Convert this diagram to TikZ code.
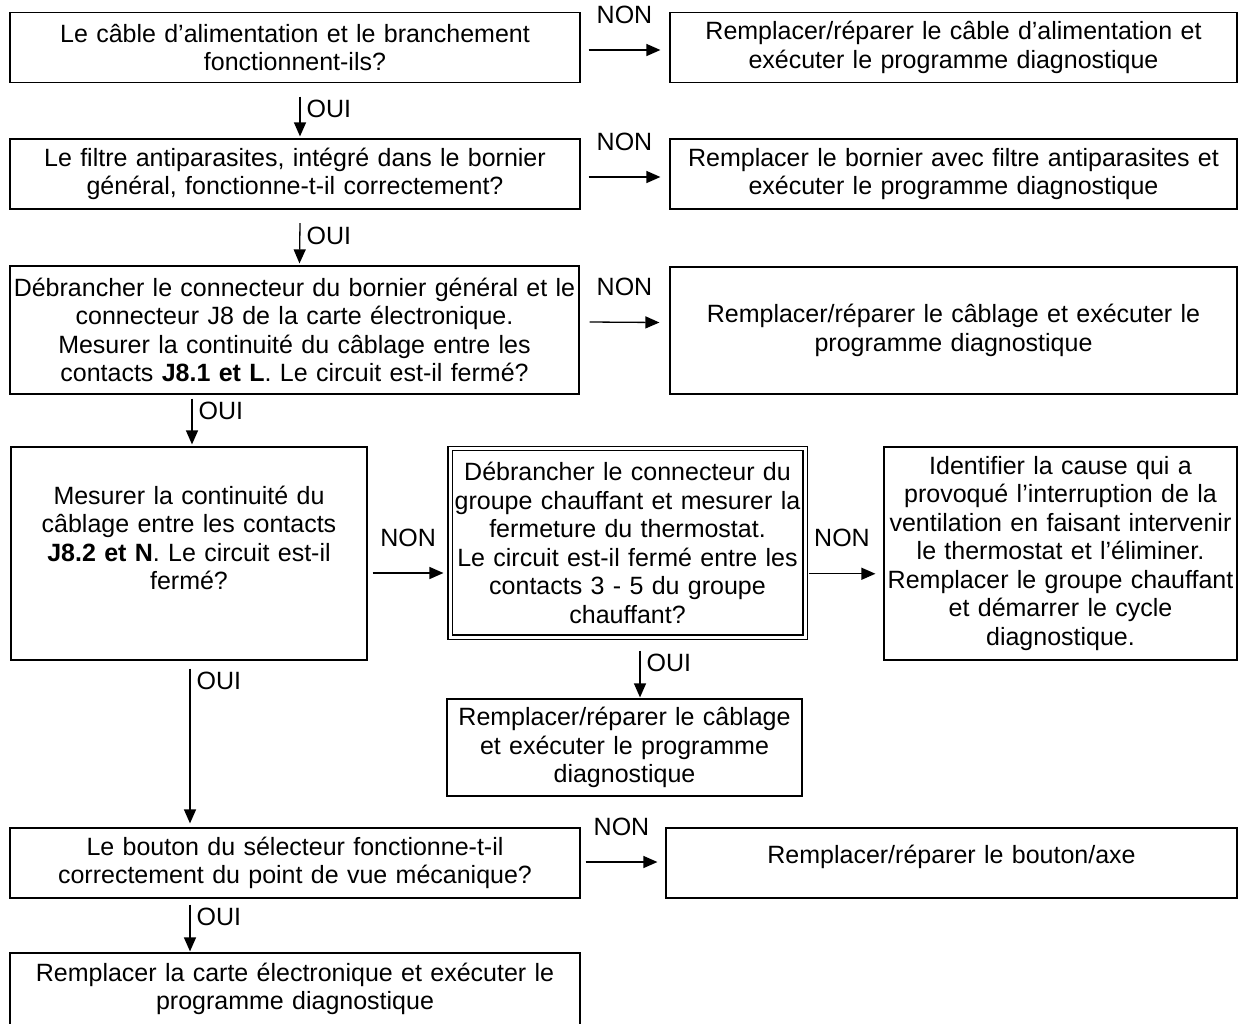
\documentclass[tikz,border=0pt]{standalone}
\usepackage{fontspec}
\setmainfont{Liberation Sans}
\usetikzlibrary{arrows.meta}
\begin{document}
\begin{tikzpicture}[x=1pt, y=-1pt, >={Triangle[length=14pt,width=12pt]},
    box/.style={draw, line width=1.2pt, inner sep=0pt, align=center, font=\fontsize{25}{28.5}\selectfont},
    dbox/.style={box, double, double distance=3pt, line width=1.1pt},
    arr/.style={->, line width=1.3pt},
    lab/.style={inner sep=0pt, font=\fontsize{25}{28.5}\selectfont},
    non/.style={lab, midway, above=26pt},
    oui/.style={lab, pos=0, anchor=north west, xshift=6pt, yshift=-3pt}]
  \useasboundingbox (0,0) rectangle (1241,1023);
  \node[box, text width=570pt, minimum height=70pt] (q1) at (295,47.5) {Le câble d’alimentation et le branchement\\fonctionnent-ils?};
  \node[box, text width=567pt, minimum height=70pt] (r1) at (953.5,47.5) {Remplacer/réparer le câble d’alimentation et\\exécuter le programme diagnostique};
  \node[box, text width=570pt, minimum height=70pt] (q2) at (295,174) {Le filtre antiparasites, intégré dans le bornier\\général, fonctionne-t-il correctement?};
  \node[box, text width=567pt, minimum height=70pt] (r2) at (953.5,174) {Remplacer le bornier avec filtre antiparasites et\\exécuter le programme diagnostique};
  \node[box, text width=569pt, minimum height=128pt] (q3) at (294.5,330) {Débrancher le connecteur du bornier général et le\\connecteur J8 de la carte électronique.\\Mesurer la continuité du câblage entre les\\contacts \textbf{J8.1 et L}. Le circuit est-il fermé?};
  \node[box, text width=567pt, minimum height=127pt] (r3) at (953.5,330.5) {Remplacer/réparer le câblage et exécuter le\\programme diagnostique};
  \node[box, text width=356pt, minimum height=213pt, text height=57pt, text depth=156pt] (q4) at (189,553.5) {Mesurer la continuité du\\câblage entre les contacts\\\textbf{J8.2 et N}. Le circuit est-il\\fermé?};
  \node[dbox, text width=355pt, minimum height=188.5pt] (q5) at (627.5,542.75) {Débrancher le connecteur du\\groupe chauffant et mesurer la\\fermeture du thermostat.\\Le circuit est-il fermé entre les\\contacts 3 - 5 du groupe\\chauffant?};
  \node[box, text width=353pt, minimum height=213pt] (r6) at (1060.5,553.5) {Identifier la cause qui a\\provoqué l’interruption de la\\ventilation en faisant intervenir\\le thermostat et l’éliminer.\\Remplacer le groupe chauffant\\et démarrer le cycle\\diagnostique.};
  \node[box, text width=355pt, minimum height=97pt] (r7) at (624.5,747.5) {Remplacer/réparer le câblage\\et exécuter le programme\\diagnostique};
  \node[box, text width=570pt, minimum height=70pt] (q8) at (295,863) {Le bouton du sélecteur fonctionne-t-il\\correctement du point de vue mécanique?};
  \node[box, text width=571pt, minimum height=70pt, text height=35pt, text depth=35pt] (r8) at (951.5,863) {Remplacer/réparer le bouton/axe};
  \node[box, text width=570pt, minimum height=72pt] (r9) at (295,989) {Remplacer la carte électronique et exécuter le\\programme diagnostique};

  \draw[arr] ([shift={(8,2.5)}]q1.east) -- node[non] {NON} ([shift={(-9,2.5)}]r1.west);
  \draw[arr] ([shift={(8,3)}]q2.east) -- node[non] {NON} ([shift={(-9,3)}]r2.west);
  \draw[arr] ([shift={(10,-8)}]q3.east) -- node[non] {NON} ([shift={(-10,-8)}]r3.west);
  \draw[arr] ([shift={(5,19.5)}]q4.east) -- node[non] {NON} ([shift={(-6,19.5)}]q4.east -| q5.west);
  \draw[arr] ([shift={(3,31)}]q5.east) -- node[non] {NON} ([shift={(-8,31)}]q5.east -| r6.west);
  \draw[arr] ([shift={(5,-1)}]q8.east) -- node[non] {NON} ([shift={(-8,-1)}]r8.west);

  \draw[arr] ([shift={(5,13.5)}]q1.south) -- node[oui] {OUI} ([shift={(5,-2)}]q2.north);
  \draw[arr] ([shift={(5,13.5)}]q2.south) -- node[oui] {OUI} ([shift={(5,-2)}]q3.north);
  \draw[arr] ([shift={(3,4)}]q3.south -| q4.north) -- node[oui] {OUI} ([shift={(3,-2)}]q4.north);
  \draw[arr] ([shift={(1,8)}]q4.south) -- node[oui] {OUI} ([shift={(1,-4)}]q8.north -| q4.south);
  \draw[arr] ([shift={(12.5,13)}]q5.south) -- node[oui] {OUI} ([shift={(12.5,-1)}]q5.south |- r7.north);
  \draw[arr] ([shift={(1,6)}]q8.south -| q4.south) -- node[oui] {OUI} ([shift={(1,-1)}]r9.north -| q4.south);
\end{tikzpicture}
\end{document}
